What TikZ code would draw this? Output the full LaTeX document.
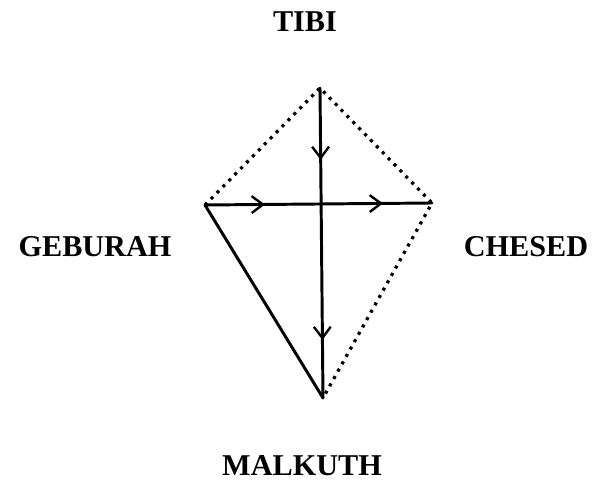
\documentclass[tikz,border=0pt]{standalone}
\usepackage{fontspec}
\setmainfont{Liberation Serif}
\usetikzlibrary{positioning,arrows.meta,decorations.markings}

\begin{document}
\begin{tikzpicture}[
        sefiraLabel/.style={font=\fontsize{21.5}{25}\selectfont\bfseries, inner sep=0pt, anchor=base},
        solidPath/.style={line width=2.1pt, line cap=round},
        dottedPath/.style={line width=2.3pt, dash pattern=on 2.2pt off 3.8pt},
        flowMarks/.style={postaction={decorate, decoration={markings,
            mark=at position #1 with {\arrow{Straight Barb[length=8pt, width=12pt, line width=1.7pt]}}}}}
    ]
        \useasboundingbox (0, 0) rectangle (14.8, 12.1);

        % Vertices of the kite
        \coordinate (tibi) at (8.0, 9.9);
        \coordinate (geburah) at (5.125, 6.975);
        \coordinate (chesed) at (10.8, 7.025);
        \coordinate (malkuth) at (8.075, 2.15);

        % Labels
        \node[sefiraLabel] (tibiLabel) at (7.625, 11.3) {TIBI};
        \node[sefiraLabel] (geburahLabel) at (2.375, 5.675) {GEBURAH};
        \node[sefiraLabel] (chesedLabel) at (13.15, 5.675) {CHESED};
        \node[sefiraLabel] (malkuthLabel) at (7.55, 0.2) {MALKUTH};

        % Dotted edges
        \draw[dottedPath] (geburah) -- (tibi) -- (chesed) -- (malkuth);

        % Solid edges
        \draw[solidPath] (geburah) -- (malkuth);
        \draw[solidPath, flowMarks=0.232, flowMarks=0.813] (tibi) -- (malkuth);
        \draw[solidPath, flowMarks=0.264, flowMarks=0.784] (geburah) -- (chesed);
    \end{tikzpicture}
\end{document}
